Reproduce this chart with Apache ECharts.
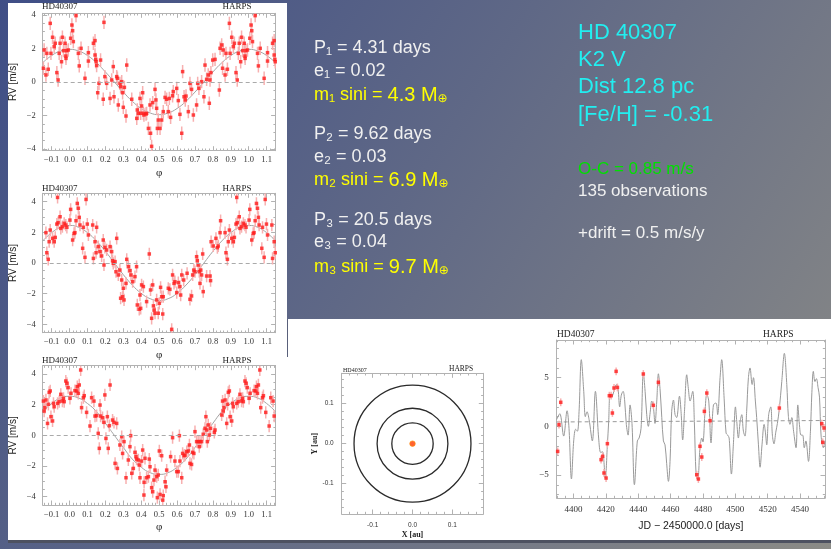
<!DOCTYPE html>
<html><head><meta charset="utf-8">
<script src="https://cdn.jsdelivr.net/npm/echarts@6/dist/echarts.min.js"></script>
<style>html,body{margin:0;padding:0;overflow:hidden;background:#5a6385}#c{width:831px;height:549px}</style>
</head><body><div id="c"></div>
<script>
// ---------------- DATA ----------------
const PHASE_TICKS = [-0.1,0,0.1,0.2,0.3,0.4,0.5,0.6,0.7,0.8,0.9,1.0,1.1];
const RV_TICKS = [-4,-2,0,2,4];
const FIT_PHASES = [-0.15,-0.1,-0.05,0,0.05,0.1,0.15,0.2,0.25,0.3,0.35,0.4,0.45,0.5,0.55,0.6,0.65,0.7,0.75,0.8,0.85,0.9,0.95,1.0,1.05,1.1,1.15];
const FIT1 = [1.15,1.58,1.85,1.95,1.85,1.58,1.15,0.60,0,-0.60,-1.15,-1.58,-1.85,-1.95,-1.85,-1.58,-1.15,-0.60,0,0.60,1.15,1.58,1.85,1.95,1.85,1.58,1.15];
const FIT2 = [1.44,1.98,2.33,2.45,2.33,1.98,1.44,0.76,0,-0.76,-1.44,-1.98,-2.33,-2.45,-2.33,-1.98,-1.44,-0.76,0,0.76,1.44,1.98,2.33,2.45,2.33,1.98,1.44];
const FIT3 = [1.55,2.08,2.44,2.55,2.44,2.08,1.55,0.79,0,-0.79,-1.55,-2.08,-2.44,-2.55,-2.44,-2.08,-1.55,-0.79,0,0.79,1.55,2.08,2.44,2.55,2.44,2.08,1.55];

const PHASE1 = [[0.006,2.61],[0.013,3.40],[0.017,3.06],[0.021,2.41],[0.036,3.96],[0.049,1.71],[0.054,0.96],[0.064,2.01],[0.086,0.22],[0.105,1.25],[0.105,1.75],[0.133,2.31],[0.142,2.47],[0.142,1.61],[0.146,1.35],[0.148,1.21],[0.151,0.98],[0.157,-0.64],[0.164,-0.08],[0.173,1.31],[0.188,-1.03],[0.192,3.56],[0.197,0.32],[0.207,-0.08],[0.226,-0.98],[0.235,0.12],[0.244,0.92],[0.248,-0.88],[0.263,0.32],[0.267,0.22],[0.272,-1.37],[0.281,-0.08],[0.285,-0.28],[0.291,0.02],[0.296,-0.64],[0.300,-1.51],[0.306,-0.32],[0.315,-2.03],[0.319,1.01],[0.347,-1.03],[0.375,-2.17],[0.378,-1.67],[0.384,-1.87],[0.393,-0.98],[0.397,-1.87],[0.402,-1.43],[0.408,-0.64],[0.412,-1.87],[0.415,-1.97],[0.427,-1.91],[0.430,-1.87],[0.440,-2.77],[0.449,-1.37],[0.452,-3.06],[0.458,-3.84],[0.464,-1.23],[0.477,-0.44],[0.482,-1.07],[0.486,-1.57],[0.490,-2.77],[0.495,-2.27],[0.505,-2.77],[0.514,-2.27],[0.523,-1.77],[0.533,-0.92],[0.542,-1.03],[0.551,-1.77],[0.557,-0.98],[0.564,-2.11],[0.575,-0.82],[0.579,-0.58],[0.598,-0.38],[0.607,-1.11],[0.616,-1.93],[0.626,-3.06],[0.631,0.62],[0.639,-0.88],[0.646,-1.07],[0.650,-0.84],[0.663,-1.77],[0.672,-0.08],[0.681,-0.44],[0.691,-1.97],[0.709,-1.37],[0.715,-0.08],[0.722,-0.38],[0.737,0.02],[0.750,-0.88],[0.756,1.01],[0.765,0.16],[0.774,0.42],[0.780,-1.27],[0.784,0.12],[0.789,0.56],[0.799,1.31],[0.812,1.35],[0.836,-0.48],[0.840,2.01],[0.849,2.21],[0.854,0.82],[0.858,1.91],[0.868,0.42],[0.873,1.71],[0.881,0.76],[0.892,3.50],[0.896,1.71],[0.905,2.67],[0.914,2.11],[0.920,2.31],[0.929,0.56],[0.936,0.12],[0.942,1.71],[0.947,2.31],[0.955,1.21],[0.960,2.67],[0.966,1.87],[0.975,2.31],[0.979,1.55],[0.980,1.41],[0.984,1.87],[0.993,1.91]];

const PHASE2 = [[0.002,2.80],[0.006,3.50],[0.017,1.50],[0.025,1.93],[0.030,1.98],[0.036,2.76],[0.043,3.89],[0.049,3.57],[0.054,2.98],[0.058,2.48],[0.073,0.96],[0.077,2.33],[0.086,0.37],[0.092,4.15],[0.099,2.54],[0.105,1.83],[0.129,2.48],[0.133,0.30],[0.142,1.39],[0.148,0.67],[0.151,2.33],[0.160,1.07],[0.170,0.74],[0.179,0.46],[0.188,1.50],[0.192,-0.13],[0.197,1.02],[0.207,0.85],[0.226,1.07],[0.235,0.74],[0.240,0.15],[0.244,-0.02],[0.254,0.09],[0.259,-0.57],[0.263,1.61],[0.272,-0.78],[0.281,-0.46],[0.285,-2.30],[0.291,-1.11],[0.296,-2.20],[0.300,-1.65],[0.304,-2.41],[0.315,-1.33],[0.319,0.24],[0.328,-0.24],[0.337,-0.50],[0.343,-0.78],[0.352,-1.22],[0.365,-0.89],[0.374,-0.24],[0.378,-2.74],[0.389,-3.02],[0.393,-2.09],[0.397,-2.96],[0.402,-1.43],[0.412,-1.54],[0.430,-2.52],[0.445,0.59],[0.452,-1.76],[0.458,-3.61],[0.464,-1.43],[0.468,-2.80],[0.472,-3.07],[0.477,-3.28],[0.486,-2.41],[0.495,-3.28],[0.501,-2.63],[0.508,-1.59],[0.514,-2.20],[0.520,-3.33],[0.523,-2.20],[0.551,-1.65],[0.560,-1.72],[0.570,-4.33],[0.575,-0.78],[0.583,-1.33],[0.588,-1.22],[0.598,-1.93],[0.607,-1.28],[0.616,-1.54],[0.620,-2.09],[0.626,-0.78],[0.637,-1.11],[0.656,-0.67],[0.672,-2.37],[0.681,-2.15],[0.687,-0.78],[0.694,-0.46],[0.700,-0.57],[0.709,0.41],[0.713,0.15],[0.718,-0.13],[0.724,-0.57],[0.728,-1.33],[0.732,-0.46],[0.737,-0.78],[0.743,0.59],[0.746,-1.87],[0.765,-0.85],[0.784,-0.85],[0.787,-1.15],[0.790,1.39],[0.802,1.11],[0.817,1.61],[0.825,1.00],[0.830,1.11],[0.840,1.98],[0.843,2.76],[0.868,1.98],[0.873,0.67],[0.881,0.24],[0.886,1.39],[0.892,2.15],[0.905,1.61],[0.914,1.39],[0.920,1.67],[0.929,2.54],[0.933,4.28],[0.936,2.63],[0.947,3.02],[0.951,2.26],[0.960,2.37],[0.970,2.59],[0.979,2.48],[0.985,2.33]];

const PHASE3 = [[0.002,2.42],[0.008,2.75],[0.030,2.92],[0.040,2.90],[0.043,3.18],[0.049,2.75],[0.054,3.29],[0.062,4.27],[0.067,1.81],[0.077,2.46],[0.082,2.59],[0.095,1.50],[0.114,0.61],[0.123,2.46],[0.136,2.24],[0.142,1.26],[0.151,1.29],[0.160,0.13],[0.166,-0.85],[0.170,1.98],[0.173,1.26],[0.184,1.15],[0.192,0.85],[0.197,2.64],[0.203,-0.20],[0.211,1.22],[0.216,-0.85],[0.222,0.63],[0.226,3.29],[0.240,1.00],[0.248,0.85],[0.254,-1.83],[0.263,0.78],[0.267,-2.16],[0.281,-0.63],[0.291,-0.09],[0.296,-1.18],[0.304,-0.41],[0.315,-2.77],[0.328,-1.61],[0.337,-0.74],[0.341,-0.02],[0.347,-2.48],[0.356,-2.16],[0.365,-1.11],[0.371,-1.39],[0.374,-1.55],[0.384,-1.61],[0.389,-1.94],[0.393,-2.77],[0.402,-1.68],[0.408,-0.96],[0.415,-3.90],[0.416,-3.07],[0.421,-1.50],[0.430,-2.77],[0.440,-2.70],[0.445,-1.55],[0.449,-2.05],[0.458,-3.42],[0.464,-3.68],[0.471,-2.92],[0.477,-2.27],[0.486,-2.70],[0.490,-4.07],[0.495,-2.59],[0.501,-1.02],[0.505,-3.86],[0.514,-1.33],[0.520,-4.23],[0.523,-3.94],[0.533,-3.03],[0.538,-3.36],[0.542,-2.27],[0.564,-1.39],[0.575,-0.15],[0.588,-1.68],[0.598,-2.37],[0.607,-2.37],[0.613,-0.02],[0.616,-1.68],[0.626,-2.77],[0.631,-1.18],[0.639,-1.33],[0.644,-1.29],[0.654,-1.07],[0.663,-1.02],[0.669,-0.63],[0.672,-1.83],[0.681,-1.90],[0.687,-1.11],[0.694,-1.18],[0.700,0.24],[0.709,-0.41],[0.718,-0.41],[0.724,-0.74],[0.728,-0.41],[0.737,-0.41],[0.746,0.07],[0.756,0.46],[0.761,1.22],[0.765,0.35],[0.769,-0.41],[0.774,0.68],[0.780,0.02],[0.787,0.46],[0.808,0.20],[0.812,0.35],[0.849,1.33],[0.854,2.24],[0.858,1.59],[0.862,1.81],[0.868,2.31],[0.877,0.78],[0.882,2.03],[0.886,2.81],[0.892,2.90],[0.896,1.22],[0.905,0.94],[0.910,2.09],[0.914,1.87],[0.933,2.09],[0.942,2.20],[0.951,2.68],[0.960,2.24],[0.966,2.42],[0.970,2.20],[0.979,3.55],[0.985,3.40],[0.992,3.12]];
const RV_ERR = 0.4;

const TS_X_TICKS = [4400,4420,4440,4460,4480,4500,4520,4540];
const TS_Y_TICKS = [-5,0,5];
const TS_OBS = [[4390.3,-2.57],[4391.1,0.17],[4392.2,2.47],[4417.1,-3.42],[4418.1,-3.08],[4418.9,-4.79],[4420.2,-5.31],[4421.0,-1.78],[4422.2,3.15],[4423.3,3.15],[4424.1,1.37],[4425.1,3.94],[4426.4,5.65],[4427.2,4.0],[4443.2,5.38],[4449.4,2.16],[4452.5,4.52],[4476.2,-4.97],[4477.2,-5.41],[4478.2,-2.05],[4479.3,-3.15],[4480.9,1.54],[4482.4,3.42],[4484.4,0.58],[4527.2,1.88],[4553.4,0.27],[4554.0,-1.64],[4554.8,-0.17]];
const TS_MODEL = [[4389.7,0.7],[4391.6,1.3],[4394.0,-1.0],[4396.1,1.6],[4397.3,-0.2],[4398.8,-5.4],[4400.2,-1.5],[4401.4,-0.3],[4402.5,-0.5],[4403.5,1.5],[4404.9,6.85],[4406.4,3.6],[4407.4,1.0],[4408.4,1.5],[4409.7,0.7],[4411.7,-1.5],[4413.6,3.6],[4415.6,-1.2],[4416.9,-2.7],[4418.0,-2.6],[4419.7,-5.3],[4421.0,-1.9],[4421.8,0.5],[4422.6,3.1],[4423.5,3.0],[4424.5,3.3],[4425.5,3.9],[4426.6,4.3],[4427.6,3.8],[4428.6,2.0],[4429.6,3.2],[4430.7,3.6],[4431.7,2.6],[4432.7,0.2],[4433.8,-0.9],[4435.0,2.2],[4436.2,0.3],[4437.7,-6.0],[4439.5,-1.5],[4440.6,-1.2],[4441.8,-0.2],[4443.2,5.5],[4444.3,3.6],[4445.3,1.2],[4446.3,0.0],[4447.4,1.4],[4448.4,2.6],[4449.4,2.0],[4450.4,0.3],[4451.5,2.6],[4452.5,5.4],[4453.5,3.9],[4454.6,0.9],[4455.6,-1.5],[4456.6,-1.9],[4457.6,-3.8],[4458.7,-5.65],[4459.7,-3.6],[4460.7,1.5],[4461.8,2.7],[4462.8,1.2],[4463.8,0.9],[4465.5,3.1],[4466.5,1.5],[4467.5,-1.4],[4468.6,1.5],[4470.0,5.3],[4471.0,3.9],[4472.1,2.6],[4473.7,3.6],[4474.7,0.5],[4475.8,-5.0],[4476.8,-5.5],[4478.2,-2.2],[4479.3,-1.2],[4480.0,-1.6],[4481.3,1.5],[4482.4,3.3],[4483.6,2.6],[4485.0,-1.7],[4486.5,2.2],[4488.1,2.4],[4489.1,1.2],[4490.6,5.0],[4491.6,6.85],[4493.1,2.9],[4494.3,-0.7],[4495.3,-0.9],[4496.2,-1.2],[4497.6,-4.9],[4498.8,-1.9],[4500.1,2.0],[4500.9,0.5],[4501.9,-1.2],[4503.0,0.5],[4504.0,1.2],[4505.0,-0.5],[4506.0,-1.0],[4507.0,1.5],[4508.1,5.0],[4509.1,6.0],[4510.4,4.3],[4511.2,5.0],[4512.4,2.6],[4513.2,0.9],[4514.3,-1.9],[4515.3,-4.2],[4516.5,-1.9],[4517.8,0.2],[4518.6,-0.6],[4519.4,-1.9],[4520.6,1.2],[4521.9,2.0],[4522.9,-0.9],[4523.9,-1.8],[4525.0,-0.6],[4526.0,0.3],[4527.2,1.8],[4528.7,4.6],[4530.3,7.5],[4531.8,4.3],[4532.8,1.0],[4533.8,0.2],[4534.9,0.9],[4536.0,-0.5],[4537.5,-2.2],[4538.6,2.2],[4539.6,0.2],[4540.6,-0.9],[4541.6,-0.9],[4542.6,-2.2],[4543.6,-1.5],[4545.2,-3.6],[4546.4,-0.5],[4547.3,3.5],[4548.2,5.65],[4549.2,4.6],[4550.1,4.9],[4551.1,4.0],[4552.0,3.0],[4553.0,-1.0],[4554.4,-2.2],[4555.4,-1.5]];
const DRIFT_LINE = [[4389.7,0.45],[4555.4,0.6]];

const ORBIT_TICKS = [-0.1,0,0.1];
const ORBIT_RADII = [0.052,0.089,0.147];
const STAR = [[0,0]];

// ---------------- HELPERS ----------------
const SERIF = '"Liberation Serif","DejaVu Serif",serif';
const SANS = '"Liberation Sans",Arial,sans-serif';
const FRAME = '#b2b2b2';
const LABEL = '#333';
function steps(a, b, s) { const o = []; for (let v = a; v <= b + 1e-9; v += s) o.push(+v.toFixed(6)); return o; }
const minusFmt = d => v => (v < 0 ? '−' : '') + Math.abs(v).toFixed(d);
function wrapPhase(pts) {
  const out = pts.slice();
  pts.forEach(p => { if (p[0] <= 0.15) out.push([p[0] + 1, p[1]]); if (p[0] >= 0.85) out.push([p[0] - 1, p[1]]); });
  return out;
}

const xAxes = [], yAxes = [], series = [];
function mkAxis(gi, pos, s, role) {
  const minor = role === 'minor';
  const main = role === 'main';
  const a = {
    type: 'value', gridIndex: gi, position: pos, min: s.min, max: s.max,
    axisLine: { show: !minor, onZero: false, lineStyle: { color: FRAME, width: 1 } },
    axisTick: { show: true, inside: true, length: minor ? 2.2 : 4.5, customValues: minor ? s.minor : s.major, lineStyle: { color: FRAME, width: 1 } },
    axisLabel: main ? { show: true, customValues: s.major, formatter: s.fmt, fontFamily: s.font, fontSize: s.size, color: LABEL, margin: s.margin } : { show: false },
    splitLine: { show: false }, splitArea: { show: false }, silent: true
  };
  if (main && s.name) {
    a.name = s.name; a.nameLocation = 'middle'; a.nameGap = s.nameGap; a.nameRotate = s.nameRotate || 0;
    a.nameTextStyle = { fontFamily: s.nameFont, fontSize: s.nameSize, color: '#222', fontWeight: s.nameWeight || 'normal' };
  }
  return a;
}
function addFrame(gi, xs, ys) {
  const xi = xAxes.length, yi = yAxes.length;
  xAxes.push(mkAxis(gi, 'bottom', xs, 'main'), mkAxis(gi, 'bottom', xs, 'minor'), mkAxis(gi, 'top', xs, 'mirror'), mkAxis(gi, 'top', xs, 'minor'));
  yAxes.push(mkAxis(gi, 'left', ys, 'main'), mkAxis(gi, 'left', ys, 'minor'), mkAxis(gi, 'right', ys, 'mirror'), mkAxis(gi, 'right', ys, 'minor'));
  return { xi, yi };
}
function errBars(ax, data, err, z) {
  return {
    type: 'custom', xAxisIndex: ax.xi, yAxisIndex: ax.yi, data, clip: true, silent: true, z: z || 3,
    encode: { x: 0, y: 1 },
    renderItem(params, api) {
      const x = api.value(0), y = api.value(1);
      const p1 = api.coord([x, y - err]), p2 = api.coord([x, y + err]);
      return { type: 'line', shape: { x1: p1[0], y1: p1[1], x2: p2[0], y2: p2[1] }, style: { stroke: '#f7b0b0', lineWidth: 1.5 } };
    }
  };
}
function dots(ax, data, size) {
  return { type: 'scatter', xAxisIndex: ax.xi, yAxisIndex: ax.yi, data, symbol: 'rect', symbolSize: size || 3.5, itemStyle: { color: '#ff1c1c' }, silent: true, z: 4, clip: true };
}

// ---------------- GRIDS ----------------
const grids = [
  { left: 42.7, top: 13.3, width: 232.9, height: 137.4 },
  { left: 42.7, top: 193.3, width: 232.9, height: 139.4 },
  { left: 42.7, top: 365.7, width: 232.9, height: 139.3 },
  { left: 341.7, top: 373.3, width: 141.6, height: 140.7 },
  { left: 556.7, top: 340, width: 268.3, height: 158 }
].map(g => Object.assign(g, { show: false, containLabel: false, outerBoundsMode: 'none' }));

const phaseX = { min: -0.15, max: 1.15, major: PHASE_TICKS, minor: steps(-0.14, 1.14, 0.02), fmt: minusFmt(1), font: SERIF, size: 8.5, margin: 5, name: 'φ', nameGap: 17, nameFont: SERIF, nameSize: 11 };
const fits = [FIT1, FIT2, FIT3];
const phases = [PHASE1, PHASE2, PHASE3];
const yLims = [4.1, 4.55, 4.55];
for (let i = 0; i < 3; i++) {
  const ys = { min: -yLims[i], max: yLims[i], major: RV_TICKS, minor: steps(-4, 4, 0.5), fmt: minusFmt(0), font: SERIF, size: 8.5, margin: 7, name: 'RV [m/s]', nameGap: 24, nameRotate: 90, nameFont: SANS, nameSize: 10 };
  const ax = addFrame(i, phaseX, ys);
  const pts = wrapPhase(phases[i]);
  series.push({
    type: 'line', xAxisIndex: ax.xi, yAxisIndex: ax.yi, data: FIT_PHASES.map((p, k) => [p, fits[i][k]]),
    smooth: true, showSymbol: false, symbol: 'none', lineStyle: { color: '#a3a3a3', width: 1 }, silent: true, z: 2,
    markLine: { silent: true, symbol: 'none', label: { show: false }, lineStyle: { type: [4, 3], color: '#aaaaaa', width: 1 }, data: [{ yAxis: 0 }] }
  });
  series.push(errBars(ax, pts, RV_ERR));
  series.push(dots(ax, pts, 3.5));
}

// orbit
const orbAxX = { min: -0.178, max: 0.178, major: ORBIT_TICKS, minor: steps(-0.16, 0.16, 0.02), fmt: v => (v < 0 ? '-' : '') + Math.abs(v).toFixed(1), font: SANS, size: 6.5, margin: 8, name: 'X [au]', nameGap: 17, nameFont: SERIF, nameSize: 8, nameWeight: 'bold' };
const orbAxY = { min: -0.176, max: 0.176, major: ORBIT_TICKS, minor: steps(-0.16, 0.16, 0.02), fmt: v => (v < 0 ? '-' : '') + Math.abs(v).toFixed(1), font: SANS, size: 6.5, margin: 8, name: 'Y [au]', nameGap: 16, nameRotate: 90, nameFont: SERIF, nameSize: 8, nameWeight: 'bold' };
const oax = addFrame(3, orbAxX, orbAxY);
series.push({
  type: 'custom', xAxisIndex: oax.xi, yAxisIndex: oax.yi, data: ORBIT_RADII.map(r => [r, 0]), silent: true, z: 3,
  encode: { x: 0, y: 1 },
  renderItem(params, api) {
    const c = api.coord([0, 0]);
    const r = api.size([api.value(0), 0])[0];
    return { type: 'circle', shape: { cx: c[0], cy: c[1], r }, style: { fill: 'none', stroke: '#2a2a2a', lineWidth: 1.3 } };
  }
});
series.push({ type: 'scatter', xAxisIndex: oax.xi, yAxisIndex: oax.yi, data: STAR, symbol: 'circle', symbolSize: 5.5, itemStyle: { color: '#ff3a00', borderColor: '#ff9000', borderWidth: 0.8 }, silent: true, z: 4 });

// time series
const tsX = { min: 4389.7, max: 4555.4, major: TS_X_TICKS, minor: steps(4390, 4555, 5), fmt: v => String(v), font: SERIF, size: 9, margin: 7, name: 'JD − 2450000.0 [days]', nameGap: 23, nameFont: SANS, nameSize: 10.5 };
const tsY = { min: -7.36, max: 8.87, major: TS_Y_TICKS, minor: steps(-7, 8, 1), fmt: minusFmt(0), font: SERIF, size: 9, margin: 8 };
const tax = addFrame(4, tsX, tsY);
series.push({ type: 'line', xAxisIndex: tax.xi, yAxisIndex: tax.yi, data: DRIFT_LINE, showSymbol: false, symbol: 'none', lineStyle: { type: [4, 3], color: '#999', width: 1 }, silent: true, z: 2 });
series.push({ type: 'line', xAxisIndex: tax.xi, yAxisIndex: tax.yi, data: TS_MODEL, smooth: 0.35, showSymbol: false, symbol: 'none', lineStyle: { color: '#999999', width: 1 }, silent: true, z: 2, clip: true });
series.push(errBars(tax, TS_OBS, RV_ERR));
series.push(dots(tax, TS_OBS, 3.5));

// ---------------- TEXT / BACKGROUND ----------------
const graphic = [];
graphic.push({ type: 'rect', z: -100, silent: true, shape: { x: 0, y: 0, width: 831, height: 549 },
  style: { fill: new echarts.graphic.LinearGradient(0, 0, 1, 1, [{ offset: 0, color: '#3f4e86' }, { offset: 0.45, color: '#5f6886' }, { offset: 1, color: '#8b8b86' }]) } });
graphic.push({ type: 'rect', z: -99, silent: true, shape: { x: 8, y: 540, width: 823, height: 3 }, style: { fill: '#4d5160' } });
graphic.push({ type: 'rect', z: -98, silent: true, shape: { x: 8, y: 3, width: 279, height: 537 }, style: { fill: '#ffffff' } });
graphic.push({ type: 'rect', z: -98, silent: true, shape: { x: 287, y: 319, width: 544, height: 221 }, style: { fill: '#ffffff' } });
graphic.push({ type: 'rect', z: -97, silent: true, shape: { x: 287, y: 319, width: 1, height: 38 }, style: { fill: '#59607a' } });

function txt(x, y, text, size, fill, font, extra) {
  graphic.push(Object.assign({ type: 'text', x, y, z: 100, silent: true,
    style: Object.assign({ text, fontSize: size, fontFamily: font || SANS, fill, verticalAlign: 'middle', align: 'left' }, extra || {}) }));
}
// panel titles
[7, 188.5, 360.5].forEach(y => { txt(42, y, 'HD40307', 9, '#222', SERIF); txt(222.5, y, 'HARPS', 9, '#222', SERIF); });
txt(557, 334, 'HD40307', 9.5, '#222', SERIF); txt(763, 334, 'HARPS', 9.5, '#222', SERIF);
txt(343, 370, 'HD40307', 6, '#222', SERIF); txt(449, 369, 'HARPS', 7.5, '#222', SERIF);

// slide text
const WHITE = '#f0f0f0', YELLOW = '#ffff00', CYAN = '#22eef0', GREEN = '#00e000';
const PLANETS = [
  ['P₁ = 4.31 days', 'e₁ = 0.02', 'm₁ sini = ', '4.3 M'],
  ['P₂ = 9.62 days', 'e₂ = 0.03', 'm₂ sini = ', '6.9 M'],
  ['P₃ = 20.5 days', 'e₃ = 0.04', 'm₃ sini = ', '9.7 M']
];
const rowY = [[48, 71, 95], [134, 157, 180], [220, 242, 267]];
PLANETS.forEach((p, i) => {
  txt(314, rowY[i][0], p[0], 18, WHITE);
  txt(314, rowY[i][1], p[1], 18, WHITE);
  txt(314, rowY[i][2], '{a|' + p[2] + '}{b|' + p[3] + '}{c|⊕}', 18, YELLOW, SANS, {
    rich: { a: { fontSize: 18, fontFamily: SANS, fill: YELLOW }, b: { fontSize: 20, fontFamily: SANS, fill: YELLOW }, c: { fontSize: 12, fontFamily: '"DejaVu Sans",sans-serif', fill: YELLOW, verticalAlign: 'bottom' } }
  });
});
txt(578, 33, 'HD 40307', 22, CYAN);
txt(578, 60, 'K2 V', 22, CYAN);
txt(578, 87, 'Dist 12.8 pc', 22, CYAN);
txt(578, 115, '[Fe/H] = -0.31', 22, CYAN);
txt(578, 169, 'O-C = 0.85 m/s', 17, GREEN);
txt(578, 191, '135 observations', 17, WHITE);
txt(578, 233, '+drift = 0.5 m/s/y', 17, WHITE);

const chart = echarts.init(document.getElementById('c'), null, { renderer: 'canvas' });
chart.setOption({ animation: false, backgroundColor: 'transparent', grid: grids, xAxis: xAxes, yAxis: yAxes, series, graphic });
</script></body></html>
